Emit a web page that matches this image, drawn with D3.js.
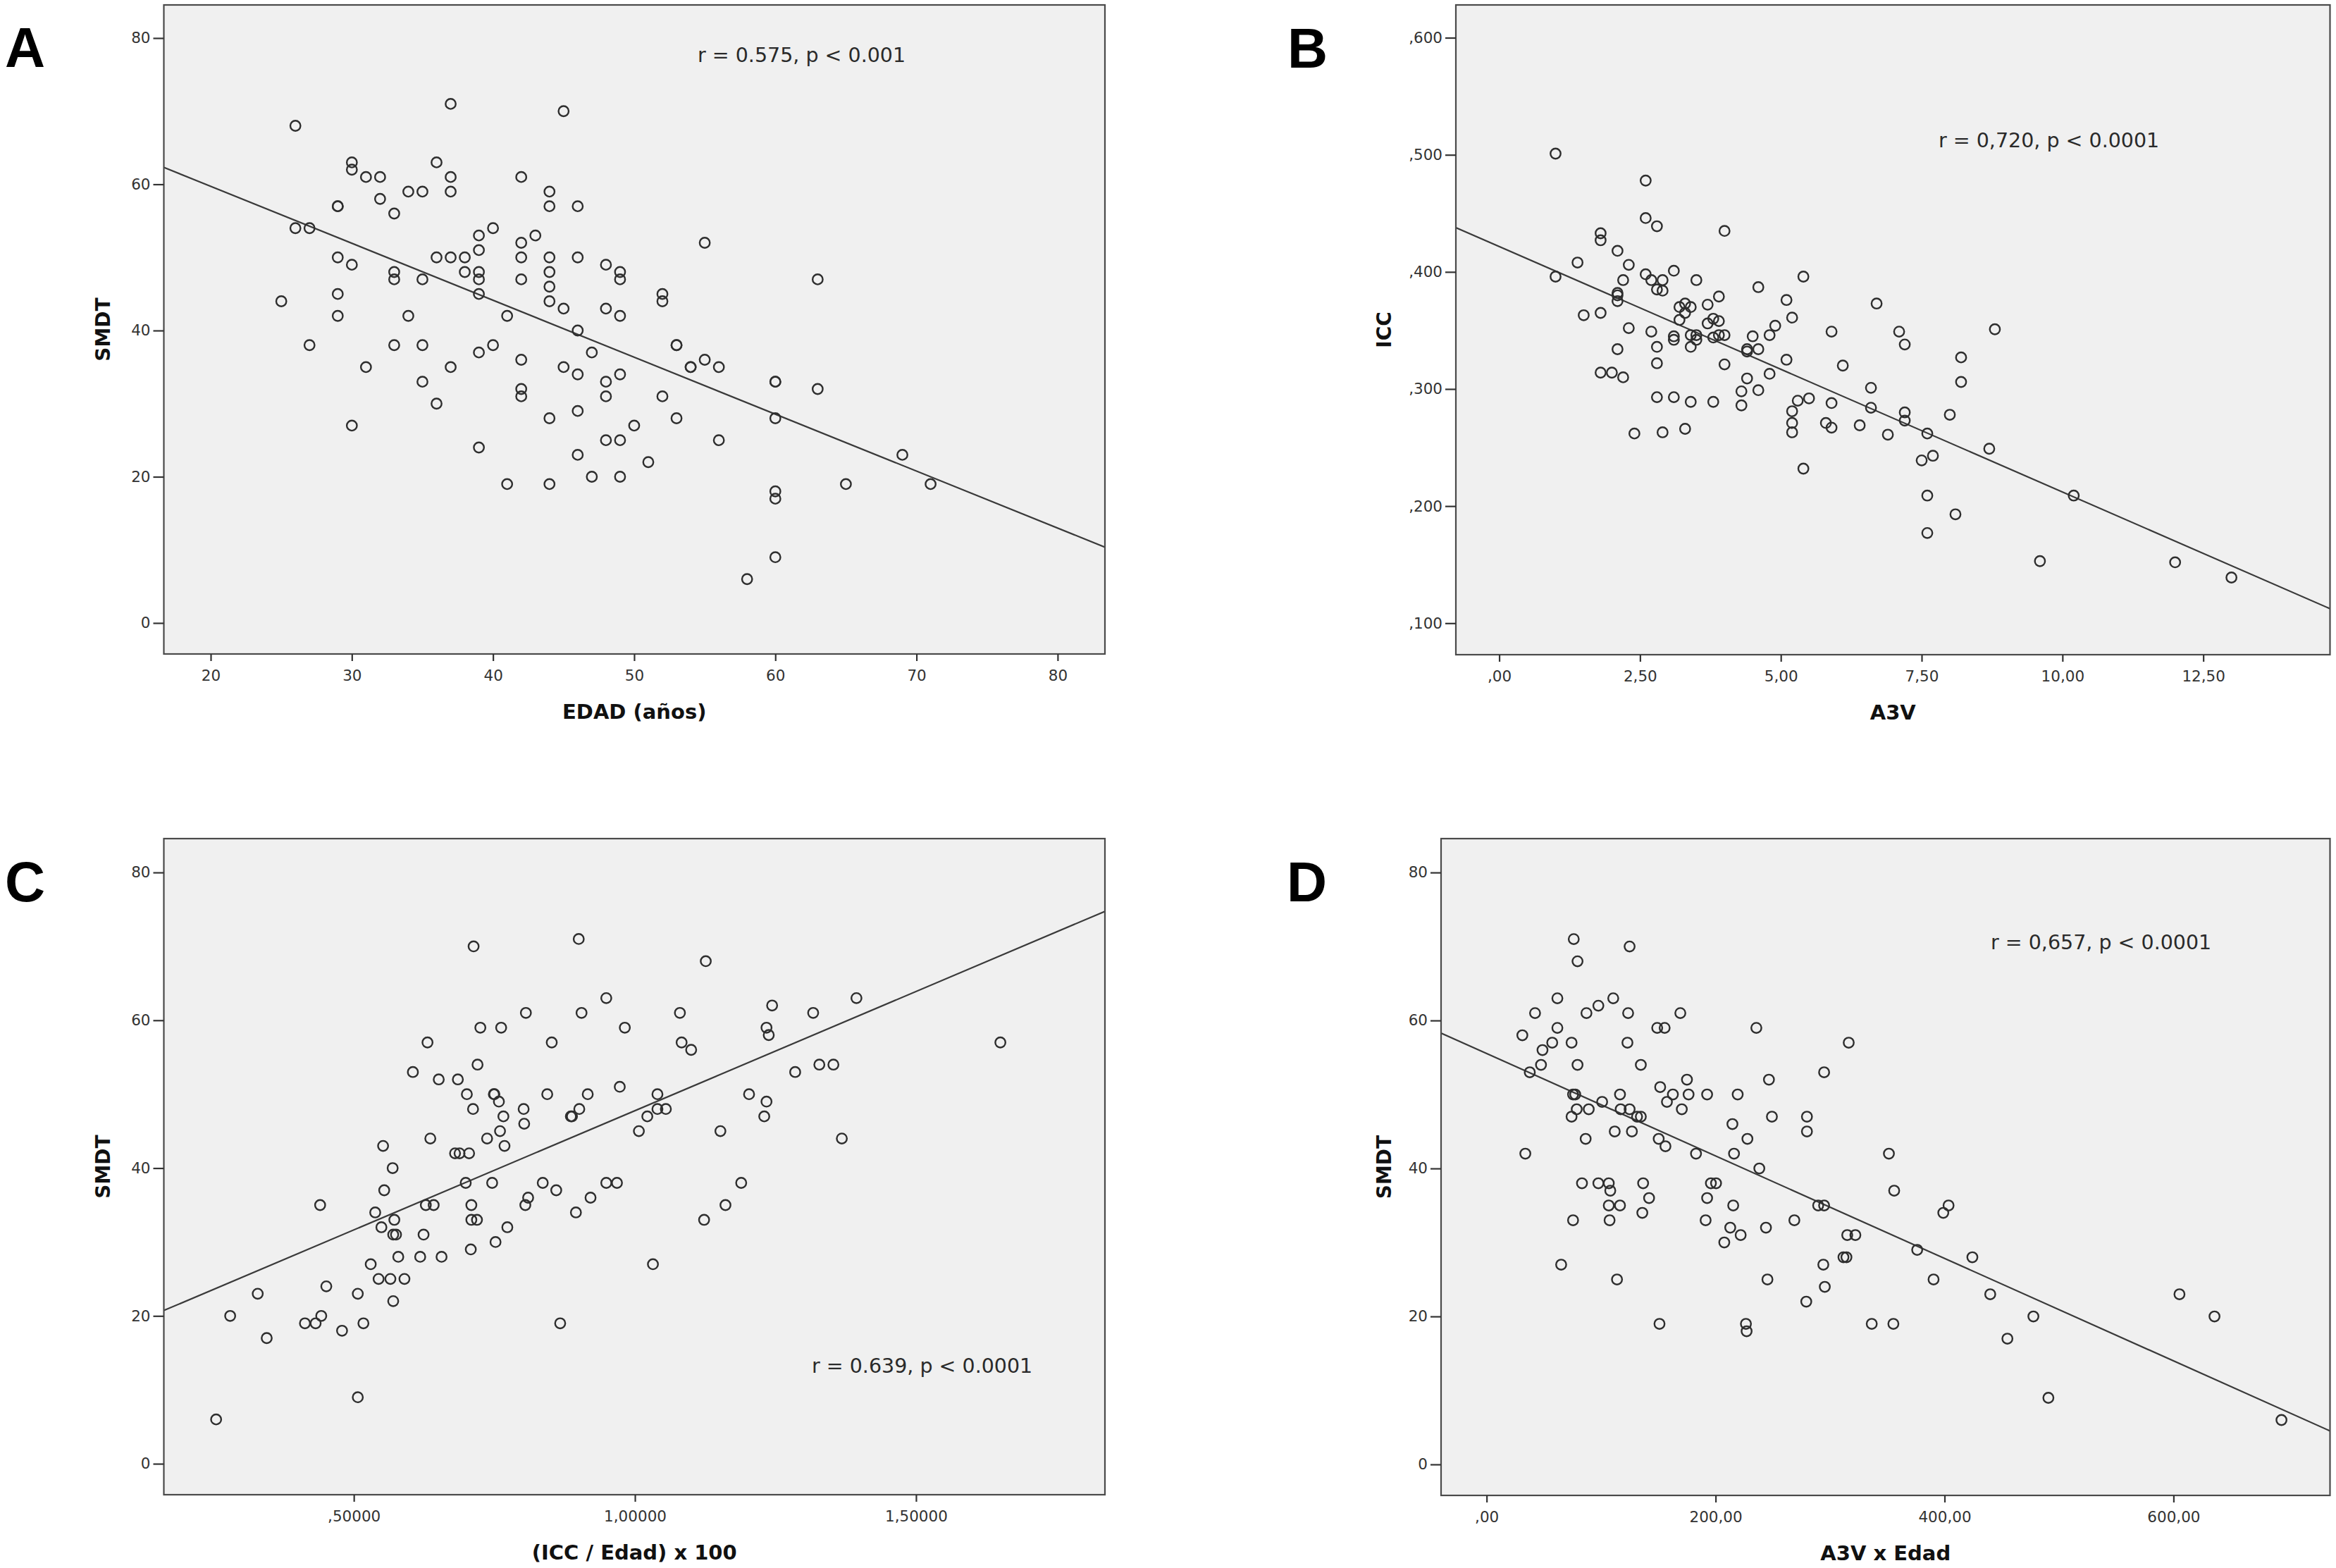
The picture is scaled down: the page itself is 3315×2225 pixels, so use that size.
<!DOCTYPE html>
<html>
<head>
<meta charset="utf-8">
<script src="https://cdn.jsdelivr.net/npm/d3@7"></script>
<style>
  body { margin: 0; background: #fff; }
  text { font-family: "DejaVu Sans", sans-serif; }
</style>
</head>
<body>
<div id="chart"></div>
<script>
// ---- data ----
// A: SMDT vs EDAD (años)
const edadA = [25,26,26,27,27,29,29,29,29,29,30,30,30,30,31,31,32,32,33,33,33,33,34,34,35,35,35,35,36,36,36,37,37,37,37,37,38,38,39,39,39,39,39,39,39,40,40,41,41,42,42,42,42,42,42,42,43,44,44,44,44,44,44,44,44,45,45,45,46,46,46,46,46,46,47,47,48,48,48,48,48,49,49,49,49,49,49,50,51,52,52,52,53,53,53,54,54,55,55,56,56,58,60,60,60,60,60,60,63,63,65,69,71];
const smdtA = [44,68,54,54,38,57,57,50,45,42,63,62,49,27,61,35,61,58,56,48,47,38,42,59,59,47,38,33,63,50,30,71,61,59,50,35,50,48,53,51,48,47,45,37,24,54,38,42,19,61,52,50,47,36,32,31,53,59,57,50,48,46,44,28,19,70,43,35,57,50,40,34,29,23,37,20,49,43,33,31,25,48,47,42,34,25,20,27,22,45,44,31,38,38,28,35,35,52,36,35,25,6,33,33,28,18,17,9,47,32,19,23,19];

// B: ICC vs A3V
const a3vB = [1.00,1.00,1.39,1.50,1.80,1.80,1.80,1.80,2.00,2.10,2.10,2.10,2.10,2.10,2.20,2.20,2.30,2.30,2.40,2.60,2.60,2.60,2.70,2.70,2.80,2.80,2.80,2.80,2.80,2.90,2.90,2.90,3.10,3.10,3.10,3.10,3.20,3.20,3.30,3.30,3.40,3.30,3.40,3.40,3.50,3.50,3.40,3.50,3.70,3.70,3.80,3.90,3.80,3.90,4.00,3.90,3.80,4.00,4.00,4.40,4.40,4.50,4.60,4.40,4.30,4.60,4.30,4.60,4.80,4.90,4.80,5.10,5.20,5.10,5.30,5.50,5.20,5.20,5.20,5.40,5.40,5.90,6.10,5.90,5.80,5.90,6.40,6.60,6.60,6.70,6.90,7.10,7.20,7.20,7.20,7.60,7.50,7.70,7.60,7.60,8.00,8.10,8.20,8.20,8.70,8.80,9.60,10.20,12.00,13.00];
const iccB = [.501,.396,.408,.363,.433,.427,.365,.314,.314,.418,.382,.380,.375,.334,.393,.310,.406,.352,.262,.478,.446,.398,.393,.349,.439,.385,.336,.322,.293,.384,.393,.263,.401,.345,.342,.293,.370,.359,.373,.365,.370,.266,.346,.336,.346,.342,.289,.393,.372,.356,.360,.358,.344,.346,.346,.379,.289,.435,.321,.334,.332,.345,.334,.309,.298,.299,.286,.387,.346,.354,.313,.376,.361,.325,.290,.292,.281,.271,.263,.232,.396,.349,.320,.288,.271,.267,.269,.301,.284,.373,.261,.349,.338,.280,.273,.262,.239,.243,.209,.177,.278,.193,.327,.306,.249,.351,.153,.209,.152,.139];

// C: SMDT vs (ICC / Edad) x 100
const ratioC = [0.255,0.28,0.329,0.345,0.413,0.432,0.44,0.442,0.451,0.479,0.507,0.507,0.517,0.53,0.538,0.544,0.549,0.552,0.554,0.565,0.569,0.57,0.572,0.57,0.575,0.579,0.59,0.605,0.618,0.624,0.628,0.631,0.636,0.642,0.651,0.656,0.68,0.685,0.688,0.699,0.701,0.705,0.708,0.709,0.709,0.712,0.713,0.719,0.72,0.725,0.737,0.746,0.749,0.75,0.752,0.758,0.76,0.762,0.766,0.768,0.773,0.802,0.803,0.805,0.806,0.81,0.836,0.844,0.852,0.86,0.867,0.886,0.888,0.895,0.9,0.901,0.905,0.916,0.921,0.949,0.949,0.968,0.973,0.982,1.007,1.022,1.032,1.04,1.04,1.055,1.08,1.083,1.1,1.123,1.126,1.152,1.161,1.189,1.203,1.23,1.234,1.234,1.238,1.244,1.285,1.317,1.328,1.353,1.368,1.394,1.65];
const smdtC = [6,20,23,17,19,19,35,20,24,18,23,9,19,27,34,25,32,43,37,25,40,31,33,22,31,28,25,53,28,31,35,57,44,35,52,28,42,52,42,38,50,42,29,35,33,48,70,33,54,59,44,38,50,50,30,49,45,59,47,43,32,48,46,35,61,36,38,50,57,37,19,47,47,34,71,48,61,50,36,63,38,38,51,59,45,47,27,50,48,48,61,57,56,33,68,45,35,38,50,47,49,59,58,62,53,61,54,54,44,63,57];

// D: SMDT vs A3V x Edad
const a3vEdadD = [31.2,33.8,37.7,42.3,47.5,48.8,57.3,61.8,61.8,65.1,74.2,74.2,75.5,75.5,76.1,77.4,78.7,79.4,79.4,83.3,86.5,87.2,89.2,97.6,97.6,100.9,106.7,106.7,107.4,108,110.6,111.9,113.9,116.5,116.5,117.1,123,123.6,124.9,124.9,126.9,131.4,134.7,134.7,136,136.7,141.9,149,150.3,151,151.6,155.5,156.2,157.5,162.7,169.2,170.5,175,176.4,182.9,191.3,192.6,192.6,195.9,200.4,207.6,212.8,214.7,215.4,216.1,219.3,221.9,226.5,227.1,227.8,235.6,238.2,244,245.3,246.6,249.2,268.8,279.2,279.8,279.8,289.6,294.1,294.8,294.8,295.4,311.7,314.3,315,316.3,322.1,336.4,351.4,355.3,356,376.1,390.4,398.9,403.5,424.3,439.9,454.9,477.6,490.7,605.2,635.8,694.3];
const smdtD = [58,42,53,61,54,56,57,59,63,27,57,47,50,33,71,50,48,68,54,38,44,61,48,62,38,49,38,35,33,37,63,45,25,50,35,48,57,61,70,48,45,47,47,54,34,38,36,59,44,19,51,59,43,49,50,61,48,52,50,42,33,50,36,38,38,30,32,46,35,42,50,31,19,18,44,59,40,32,25,52,47,33,22,47,45,35,27,53,35,24,28,28,31,57,31,19,42,19,37,29,25,34,35,28,23,17,20,9,23,20,6];

// fitted lines: [intercept, slope]
const fitA = [75.3, -0.779];
const fitB = [0.4217, -0.02097];
const fitC = [15.51, 32.26];
const fitD = [55.54, -0.06925];

// ticks and labels
const ticksSmdt = [0, 20, 40, 60, 80];
const labelsSmdt = ['0', '20', '40', '60', '80'];
const ticksEdad = [20, 30, 40, 50, 60, 70, 80];
const labelsEdad = ['20', '30', '40', '50', '60', '70', '80'];
const ticksA3v = [0, 2.5, 5, 7.5, 10, 12.5];
const labelsA3v = [',00', '2,50', '5,00', '7,50', '10,00', '12,50'];
const ticksIcc = [0.1, 0.2, 0.3, 0.4, 0.5, 0.6];
const labelsIcc = [',100', ',200', ',300', ',400', ',500', ',600'];
const ticksRatio = [0.5, 1, 1.5];
const labelsRatio = [',50000', '1,00000', '1,50000'];
const ticksProd = [0, 200, 400, 600];
const labelsProd = [',00', '200,00', '400,00', '600,00'];

const notes = ['r = 0.575, p < 0.001', 'r = 0,720, p < 0.0001', 'r = 0.639, p < 0.0001', 'r = 0,657, p < 0.0001'];

// ---- layout ----
const W = 3315, H = 2225;

const panels = [
    { letter: 'A', lx: 7, ly: 95, box: [232.5, 7, 1568, 928], xDom: [16.68, 83.35], yDom: [-4.24, 84.53],
      xs: edadA, ys: smdtA, fit: fitA, xt: ticksEdad, xl: labelsEdad, yt: ticksSmdt, yl: labelsSmdt,
      xTitle: 'EDAD (años)', yTitle: 'SMDT', yTitleX: 146, note: notes[0], nx: 990, ny: 88 },
    { letter: 'B', lx: 1827, ly: 96, box: [2066, 7, 3306.5, 929], xDom: [-0.77, 14.75], yDom: [0.0731, 0.628],
      xs: a3vB, ys: iccB, fit: fitB, xt: ticksA3v, xl: labelsA3v, yt: ticksIcc, yl: labelsIcc,
      xTitle: 'A3V', yTitle: 'ICC', yTitleX: 1964, note: notes[1], nx: 2751, ny: 209 },
    { letter: 'C', lx: 7, ly: 1279, box: [232.5, 1190, 1568, 2121], xDom: [0.162, 1.836], yDom: [-4.19, 84.58],
      xs: ratioC, ys: smdtC, fit: fitC, xt: ticksRatio, xl: labelsRatio, yt: ticksSmdt, yl: labelsSmdt,
      xTitle: '(ICC / Edad) x 100', yTitle: 'SMDT', yTitleX: 146, note: notes[2], nx: 1152, ny: 1948 },
    { letter: 'D', lx: 1826, ly: 1279, box: [2045, 1190, 3306.5, 2122], xDom: [-39.8, 736.7], yDom: [-4.19, 84.58],
      xs: a3vEdadD, ys: smdtD, fit: fitD, xt: ticksProd, xl: labelsProd, yt: ticksSmdt, yl: labelsSmdt,
      xTitle: 'A3V x Edad', yTitle: 'SMDT', yTitleX: 1964, note: notes[3], nx: 2825, ny: 1347 }
];

const svg = d3.select('#chart')
    .append('svg')
    .attr('width', W)
    .attr('height', H);

svg.append('rect').attr('width', W).attr('height', H).attr('fill', '#fff');

panels.forEach((p, k) => {
    const [x0, y0, x1, y1] = p.box;
    const x = d3.scaleLinear().domain(p.xDom).range([x0, x1]);
    const y = d3.scaleLinear().domain(p.yDom).range([y1, y0]);

    const g = svg.append('g').attr('class', 'panel');

    // plot area
    g.append('rect')
        .attr('x', x0).attr('y', y0)
        .attr('width', x1 - x0).attr('height', y1 - y0)
        .attr('fill', '#f0f0f0');

    const clipId = 'clip' + k;
    g.append('clipPath').attr('id', clipId)
        .append('rect')
        .attr('x', x0).attr('y', y0)
        .attr('width', x1 - x0).attr('height', y1 - y0);

    // fit line
    const line = d3.line().x(d => x(d)).y(d => y(p.fit[0] + p.fit[1] * d));
    g.append('path')
        .datum(p.xDom)
        .attr('clip-path', `url(#${clipId})`)
        .attr('d', line)
        .attr('fill', 'none')
        .attr('stroke', '#3a3a3a')
        .attr('stroke-width', 2.2);

    // points
    g.append('g')
        .selectAll('circle')
        .data(p.xs.map((v, i) => [v, p.ys[i]]))
        .join('circle')
        .attr('cx', d => x(d[0]))
        .attr('cy', d => y(d[1]))
        .attr('r', 7.2)
        .attr('fill', 'none')
        .attr('stroke', '#2e2e2e')
        .attr('stroke-width', 2.4);

    // border
    g.append('rect')
        .attr('x', x0).attr('y', y0)
        .attr('width', x1 - x0).attr('height', y1 - y0)
        .attr('fill', 'none')
        .attr('stroke', '#4a4a4a')
        .attr('stroke-width', 2.2);

    // axes
    const yAxis = d3.axisLeft(y)
        .tickValues(p.yt)
        .tickFormat((d, i) => p.yl[i])
        .tickSize(15)
        .tickPadding(4)
        .tickSizeOuter(0);
    const xAxis = d3.axisBottom(x)
        .tickValues(p.xt)
        .tickFormat((d, i) => p.xl[i])
        .tickSize(10)
        .tickPadding(13)
        .tickSizeOuter(0);

    [[yAxis, `translate(${x0},0)`], [xAxis, `translate(0,${y1})`]].forEach(([ax, tr]) => {
        const a = g.append('g')
            .attr('transform', tr)
            .call(ax)
            .attr('font-family', '"DejaVu Sans", sans-serif')
            .attr('font-size', 21.5)
            .attr('color', '#333');
        a.select('.domain').remove();
        a.selectAll('.tick line').attr('stroke-width', 2.2);
    });

    // axis titles
    g.append('text')
        .attr('x', (x0 + x1) / 2)
        .attr('y', y1 + 92)
        .attr('text-anchor', 'middle')
        .attr('font-weight', 'bold')
        .attr('font-size', 29)
        .attr('fill', '#111')
        .text(p.xTitle);

    g.append('text')
        .attr('transform', `translate(${p.yTitleX},${(y0 + y1) / 2}) rotate(-90)`)
        .attr('text-anchor', 'middle')
        .attr('dominant-baseline', 'central')
        .attr('font-weight', 'bold')
        .attr('font-size', 28)
        .attr('fill', '#111')
        .text(p.yTitle);

    // correlation note
    g.append('text')
        .attr('x', p.nx)
        .attr('y', p.ny)
        .attr('font-size', 28.5)
        .attr('fill', '#2a2a2a')
        .text(p.note);

    // panel letter
    svg.append('text')
        .attr('x', p.lx)
        .attr('y', p.ly)
        .style('font-family', '"Liberation Sans", Arial, sans-serif')
        .attr('font-weight', 'bold')
        .attr('font-size', 79)
        .attr('fill', '#000')
        .text(p.letter);
});
</script>
</body>
</html>
